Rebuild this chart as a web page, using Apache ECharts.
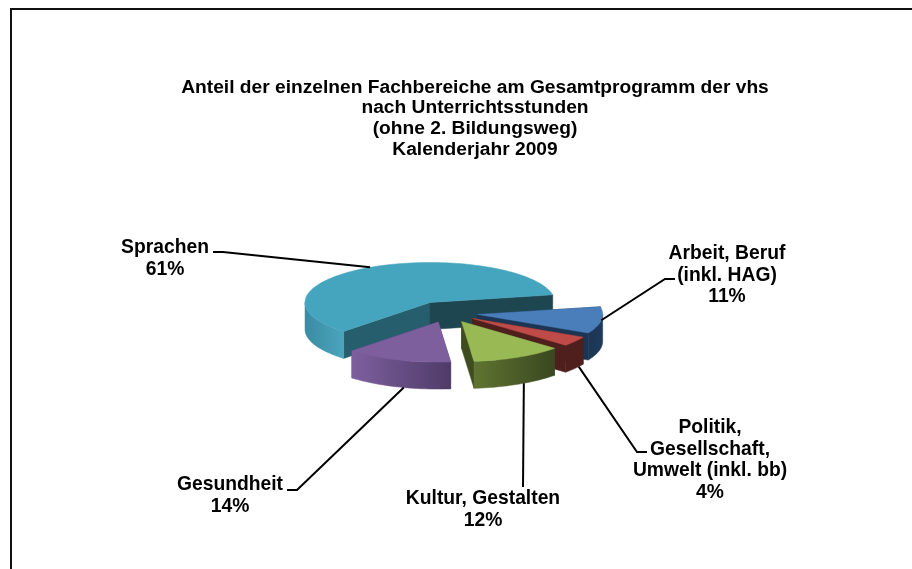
<!DOCTYPE html>
<html>
<head>
<meta charset="utf-8">
<style>
  html, body { margin: 0; padding: 0; background: #fff; overflow: hidden; }
  #chart { width: 912px; height: 569px; }
</style>
</head>
<body>
<div id="chart"></div>
<script src="https://cdn.jsdelivr.net/npm/echarts@6/dist/echarts.min.js"></script>
<script>
const titleLines = [
  'Anteil der einzelnen Fachbereiche am Gesamtprogramm der vhs',
  'nach Unterrichtsstunden',
  '(ohne 2. Bildungsweg)',
  'Kalenderjahr 2009'
];
const categories = ['Sprachen', 'Arbeit, Beruf\n(inkl. HAG)', 'Politik,\nGesellschaft,\nUmwelt (inkl. bb)', 'Kultur, Gestalten', 'Gesundheit'];
const values = [61, 11, 4, 12, 14];

// top face, radial walls, outer wall (left and right gradient stop)
const topColors = ['#46a5be', '#4a7ebb', '#be4b48', '#98b954', '#7d5f9e'];
const wallColors = [['#1e4650', '#275e6e'], ['#1c3553', '#1c3553'], ['#4f1f1e', '#4f1f1e'], ['#3f4c20', '#3f4c20'], ['#5a4478', '#5a4478']];
const rimColors = [['#3a8ba2', '#4aa5bd'], ['#1c3553', '#1e3a5c'], ['#4f1f1e', '#4f1f1e'], ['#5f7431', '#3a4720'], ['#7d5f9e', '#4f3b68']];

// label centre + top of text, then the elbow points of each leader line
const labelPos = [[165, 237], [727, 243], [710, 417], [483, 488], [230, 474]];
const elbows = [
  [[213, 252], [223, 252]],
  [[675, 279], [665, 279]],
  [[647, 452], [637, 452]],
  [[523, 487]],
  [[287, 490], [297, 490]]
];
const anchorNudge = [0, 0, 3, 3, 3];   // degrees, moves the line's foot along the rim

const cx = 448, cy = 313;        // pie centre before the slices move apart
const rx = 125, ry = 40;         // ellipse of the top face
const depth = 27;
const explode = [0.3, 0.24, 0.24, 0.24, 0.24]; // share of radius each slice moves out
const startAngle = 11;           // degrees, slices run clockwise, Arbeit first

const total = values.reduce((a, b) => a + b, 0);
const rad = d => d * Math.PI / 180;

// angle ranges, Sprachen ends where Arbeit starts
const ranges = [];
let a = startAngle;
[1, 2, 3, 4, 0].forEach(i => {
  const span = values[i] / total * 360;
  ranges[i] = [a - span, a];
  a -= span;
});

function arcPoints(ox, oy, from, to, dy) {
  const pts = [];
  const n = Math.max(2, Math.ceil((to - from) / 2));
  for (let k = 0; k <= n; k++) {
    const t = rad(from + (to - from) * k / n);
    pts.push([ox + rx * Math.cos(t), oy - ry * Math.sin(t) + dy]);
  }
  return pts;
}

function renderSlice(params, api) {
  const i = params.dataIndex;
  const from = ranges[i][0], to = ranges[i][1];
  const mid = rad((from + to) / 2);
  const ox = cx + explode[i] * rx * Math.cos(mid);
  const oy = cy - explode[i] * ry * Math.sin(mid);
  const children = [];
  const poly = (points, fill) => ({ type: 'polygon', shape: { points }, style: { fill, stroke: fill, lineWidth: 0.5 } });

  // radial walls
  const wall = (deg, fill) => {
    const px = ox + rx * Math.cos(rad(deg));
    const py = oy - ry * Math.sin(rad(deg));
    return poly([[ox, oy], [px, py], [px, py + depth], [ox, oy + depth]], fill);
  };
  children.push(wall(to, wallColors[i][1]));
  children.push(wall(from, wallColors[i][0]));

  // outer wall, only the part of the rim that faces the viewer
  [[from, to], [from + 360, to + 360], [from - 360, to - 360]].forEach(r => {
    const s = Math.max(r[0], 180), e = Math.min(r[1], 360);
    if (e > s) {
      const top = arcPoints(ox, oy, s, e, 0);
      const bottom = arcPoints(ox, oy, s, e, depth).reverse();
      children.push(poly(top.concat(bottom), new echarts.graphic.LinearGradient(0, 0, 1, 0, [
        { offset: 0, color: rimColors[i][0] },
        { offset: 1, color: rimColors[i][1] }
      ])));
    }
  });

  // top face
  children.push(poly([[ox, oy]].concat(arcPoints(ox, oy, from, to, 0)), topColors[i]));

  // leader line from the rim of the slice
  const foot = mid + rad(anchorNudge[i]);
  const rimX = ox + rx * Math.cos(foot);
  const rimY = oy - ry * Math.sin(foot) + (Math.sin(foot) < -0.3 ? depth : 0);
  children.push({
    type: 'polyline',
    shape: { points: elbows[i].concat([[rimX, rimY]]) },
    style: { stroke: '#000', lineWidth: 2, fill: 'none' },
    z2: 5
  });

  // label
  children.push({
    type: 'text',
    style: {
      text: api.value(1) + '\n' + api.value(0) + '%',
      x: labelPos[i][0],
      y: labelPos[i][1],
      align: 'center',
      verticalAlign: 'top',
      fill: '#000',
      font: 'bold 19.3px "Liberation Sans", Arial, sans-serif',
      lineHeight: 21.5
    },
    z2: 6
  });

  return { type: 'group', children };
}

const chart = echarts.init(document.getElementById('chart'), null, { renderer: 'canvas' });
chart.setOption({
  animation: false,
  backgroundColor: '#fff',
  title: {
    text: titleLines.join('\n'),
    left: 475,
    top: 77,
    padding: 0,
    textAlign: 'center',
    textStyle: {
      color: '#000',
      fontFamily: '"Liberation Sans", Arial, sans-serif',
      fontWeight: 'bold',
      fontSize: 19.2,
      lineHeight: 20.7
    }
  },
  graphic: [{
    type: 'polyline',
    shape: { points: [[11, 569], [11, 9], [912, 9]] },
    style: { stroke: '#111', lineWidth: 2, fill: 'none' }
  }],
  series: [{
    type: 'custom',
    coordinateSystem: 'none',
    renderItem: renderSlice,
    encode: { value: 0 },
    data: values.map((v, i) => [v, categories[i]])
  }]
});
window.addEventListener('resize', () => chart.resize());
</script>
</body>
</html>
